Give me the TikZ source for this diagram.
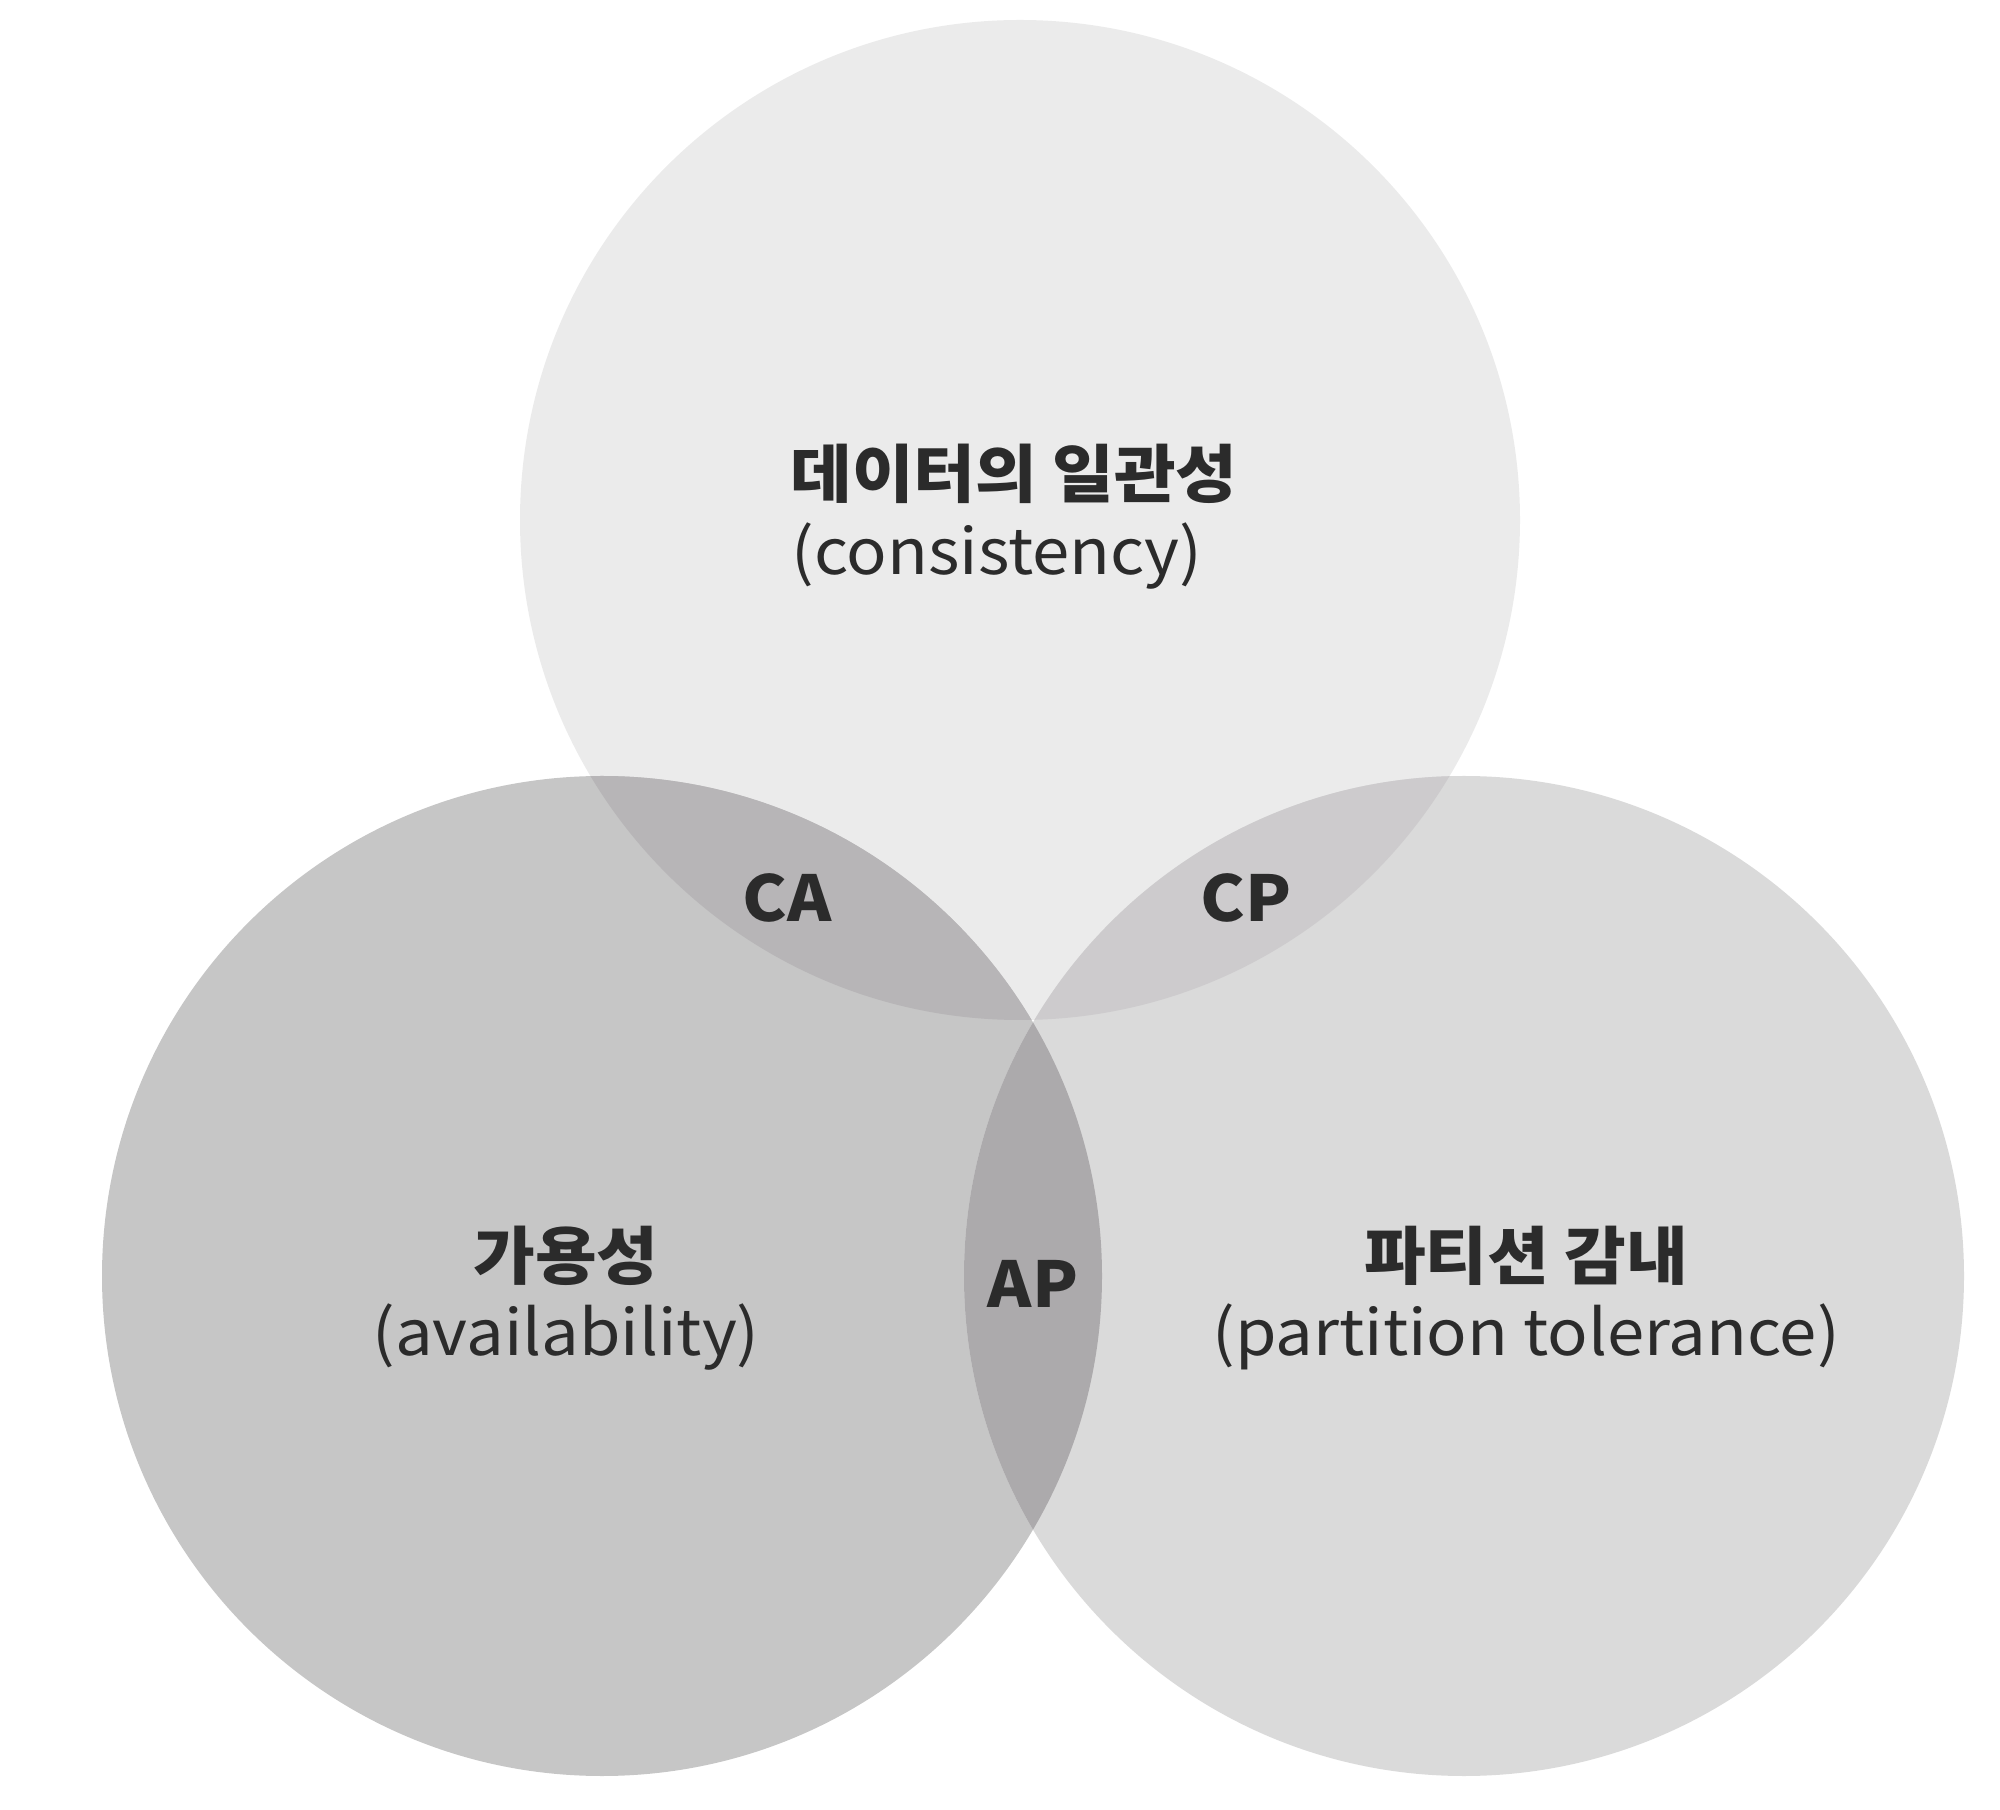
\documentclass[tikz,border=0pt]{standalone}
\usepackage{fontspec}
\setmainfont{Noto Sans CJK KR}
\usetikzlibrary{positioning}

\definecolor{cfill}{HTML}{EBEBEB}
\definecolor{afill}{HTML}{C6C6C6}
\definecolor{pfill}{HTML}{DADADA}
\definecolor{cafill}{HTML}{B7B5B7}
\definecolor{cpfill}{HTML}{CDCBCD}
\definecolor{apfill}{HTML}{ACAAAC}
\definecolor{txt}{HTML}{2B2B2B}

\begin{document}
\begin{tikzpicture}
\useasboundingbox (0,0) rectangle (20,18.09);
\coordinate (c) at (10.2,12.89);
\coordinate (a) at (6.02,5.33);
\coordinate (p) at (14.64,5.33);

% circles
\fill[cfill] (c) circle (5);
\fill[afill] (a) circle (5);
\fill[pfill] (p) circle (5);

% overlaps
\begin{scope}
    \clip (c) circle (5);
    \fill[cafill] (a) circle (5);
    \fill[cpfill] (p) circle (5);
\end{scope}
\begin{scope}
    \clip (a) circle (5);
    \fill[apfill] (p) circle (5);
\end{scope}

\begin{scope}[every node/.style={text=txt, inner sep=0pt, xscale=1.06,
              font=\fontsize{18}{21}\selectfont}]
    \node[font=\fontsize{18}{21}\selectfont\bfseries] (C) at (10.14,13.35) {데이터의 일관성};
    \node (Cen) at (9.97,12.53) {(consistency)};

    \node[font=\fontsize{18}{21}\selectfont\bfseries] (A) at (5.66,5.53) {가용성};
    \node (Aen) at (5.66,4.72) {(availability)};

    \node[font=\fontsize{18}{21}\selectfont\bfseries] (P) at (15.26,5.53) {파티션 감내};
    \node (Pen) at (15.26,4.72) {(partition tolerance)};

    \node[font=\fontsize{18}{21}\selectfont\bfseries] (CA) at (7.87,9.11) {CA};
    \node[font=\fontsize{18}{21}\selectfont\bfseries] (CP) at (12.46,9.11) {CP};
    \node[font=\fontsize{18}{21}\selectfont\bfseries] (AP) at (10.33,5.25) {AP};
\end{scope}
\end{tikzpicture}
\end{document}
